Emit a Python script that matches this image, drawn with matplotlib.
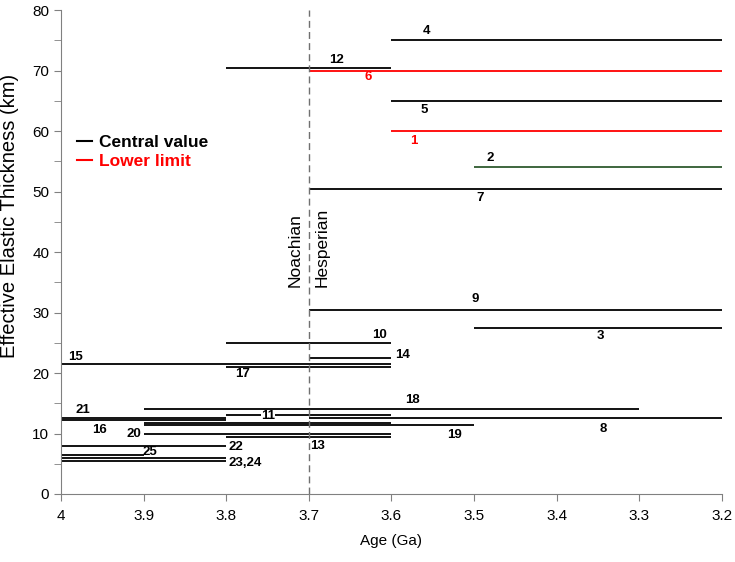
import matplotlib.pyplot as plt
from matplotlib.lines import Line2D
from matplotlib.ticker import MultipleLocator

plt.rcParams['font.family'] = ['Liberation Sans', 'DejaVu Sans']

# --- Data: each estimate is an age range (start, end) at an elastic thickness ---
ids = ['1', '2', '3', '4', '5', '6', '7', '8', '9', '10', '11', '12', '13',
       '14', '15', '16', '17', '18', '19', '', '20', '21', '22', '23', '24', '25']
age_start = [3.6, 3.5, 3.5, 3.6, 3.6, 3.7, 3.7, 3.7, 3.7, 3.8, 3.8, 3.8, 3.8,
             3.7, 4.0, 4.0, 3.8, 3.9, 3.9, 3.9, 3.9, 4.0, 4.0, 4.0, 4.0, 4.0]
age_end = [3.2, 3.2, 3.2, 3.2, 3.2, 3.2, 3.2, 3.2, 3.2, 3.6, 3.6, 3.6, 3.6,
           3.6, 3.6, 3.8, 3.6, 3.3, 3.5, 3.6, 3.6, 3.8, 3.8, 3.8, 3.8, 3.9]
te = [60, 54, 27.5, 75, 65, 70, 50.5, 12.5, 30.5, 25, 13, 70.5, 9.5,
      22.5, 21.5, 12.2, 21, 14, 11.4, 11.7, 10, 12.5, 8, 6, 5.5, 6.5]
kind = ['lower', 'other', 'central', 'central', 'central', 'lower', 'central',
        'central', 'central', 'central', 'central', 'central', 'central',
        'central', 'central', 'central', 'central', 'central', 'central',
        'central', 'central', 'central', 'central', 'central', 'central', 'central']
colors = {'central': 'black', 'lower': 'red', 'other': '#2f5a2f'}

# label placement (text, age, Te, ha)
labels = [('1', 3.573, 58.3, 'center'), ('2', 3.48, 55.5, 'center'),
          ('3', 3.347, 26.1, 'center'), ('4', 3.558, 76.5, 'center'),
          ('5', 3.56, 63.5, 'center'), ('6', 3.628, 68.9, 'center'),
          ('7', 3.493, 48.9, 'center'), ('8', 3.344, 10.7, 'center'),
          ('9', 3.499, 32.2, 'center'), ('10', 3.614, 26.3, 'center'),
          ('11', 3.749, 12.95, 'center'), ('12', 3.667, 71.7, 'center'),
          ('13', 3.689, 7.9, 'center'), ('14', 3.596, 23.0, 'left'),
          ('15', 3.983, 22.6, 'center'), ('16', 3.953, 10.5, 'center'),
          ('17', 3.78, 19.8, 'center'), ('18', 3.574, 15.5, 'center'),
          ('19', 3.523, 9.7, 'center'), ('20', 3.903, 9.9, 'right'),
          ('21', 3.973, 13.9, 'center'), ('22', 3.797, 7.7, 'left'),
          ('25', 3.892, 7.0, 'center'), ('23,24', 3.797, 5.2, 'left')]
label_red = ['1', '6']

fig, ax = plt.subplots(figsize=(7.35, 5.62), dpi=100)
fig.subplots_adjust(left=0.083, right=0.982, top=0.982, bottom=0.121)

for i in range(len(te)):
    ax.plot([age_start[i], age_end[i]], [te[i], te[i]],
            color=colors[kind[i]], lw=1.3, solid_capstyle='butt')

for txt, x, y, ha in labels:
    bbox = None
    if txt == '11':
        bbox = dict(facecolor='white', edgecolor='none', pad=0.0)
    ax.text(x, y, txt, ha=ha, va='center', fontsize=9.5, fontweight='bold',
            color='red' if txt in label_red else 'black', bbox=bbox, zorder=3)

# Noachian / Hesperian boundary
ax.axvline(3.7, color='#707070', lw=1, ls=(0, (5, 3)))
ax.text(3.707, 34.3, 'Noachian', rotation=90, ha='right', va='bottom', fontsize=12.5)
ax.text(3.693, 34.3, 'Hesperian', rotation=90, ha='left', va='bottom', fontsize=12.5)

ax.set_xlim(4, 3.2)
ax.set_ylim(0, 80)
ax.yaxis.set_major_locator(MultipleLocator(10))
ax.yaxis.set_minor_locator(MultipleLocator(5))
ax.set_xticks([4, 3.9, 3.8, 3.7, 3.6, 3.5, 3.4, 3.3, 3.2])
ax.set_xticklabels(['4', '3.9', '3.8', '3.7', '3.6', '3.5', '3.4', '3.3', '3.2'])
ax.tick_params(axis='both', which='both', length=5, color='#808080', labelsize=11)
ax.tick_params(axis='x', direction='out', pad=6)
for s in ['top', 'right']:
    ax.spines[s].set_visible(False)
for s in ['left', 'bottom']:
    ax.spines[s].set_color('#808080')

ax.set_xlabel('Age (Ga)', fontsize=11, labelpad=8)
ax.set_ylabel('Effective Elastic Thickness (km)', fontsize=14.5)
ax.yaxis.set_label_coords(-0.064, 0.575)

handles = [Line2D([], [], color='black', lw=1.5), Line2D([], [], color='red', lw=1.5)]
ax.legend(handles, ['Central value', 'Lower limit'], loc='center left',
          bbox_to_anchor=(0.0, 0.707), frameon=False, handlelength=0.9,
          handletextpad=0.4, labelspacing=0.25,
          prop={'weight': 'bold', 'size': 12.5}, labelcolor=['black', 'red'])

fig.savefig('out.png')
